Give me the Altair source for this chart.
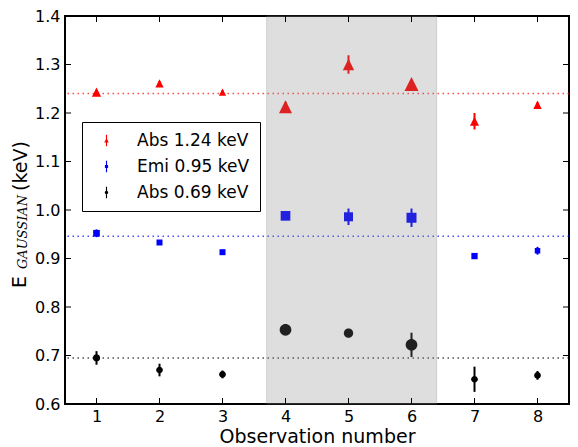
import altair as alt
import pandas as pd

# ---------------- data ----------------
obs = [1, 2, 3, 4, 5, 6, 7, 8]

series_names = ["Abs 1.24 keV", "Emi 0.95 keV", "Abs 0.69 keV"]
series_colors = ["#ff0000", "#0000ff", "#000000"]
reference_levels = [1.240, 0.946, 0.695]

abs124 = [1.243, 1.261, 1.243, 1.213, 1.300, 1.260, 1.183, 1.217]
abs124_err = [0.005, 0.005, 0.004, 0.010, 0.019, 0.008, 0.017, 0.005]

emi095 = [0.952, 0.933, 0.913, 0.988, 0.986, 0.984, 0.905, 0.916]
emi095_err = [0.008, 0.004, 0.003, 0.005, 0.017, 0.019, 0.004, 0.008]

abs069 = [0.695, 0.670, 0.661, 0.753, 0.746, 0.722, 0.651, 0.659]
abs069_err = [0.014, 0.013, 0.008, 0.004, 0.004, 0.025, 0.026, 0.009]

# marker diameters in px (style)
abs124_px = [9.3, 8.3, 7.3, 13, 11.3, 14, 9, 8.3]
emi095_px = [6.7, 6, 6, 9.7, 9, 10, 6.3, 5.5]
abs069_px = [7.3, 6.7, 6.7, 11.7, 9.3, 11.7, 6.7, 6.7]

shade_start, shade_end = 3.7, 6.4
x_ticks = [1, 2, 3, 4, 5, 6, 7, 8]
y_ticks = [0.6, 0.7, 0.8, 0.9, 1.0, 1.1, 1.2, 1.3, 1.4]

# ---------------- build tables ----------------
rows = []
for name, col, vals, errs, px in zip(
    series_names, series_colors,
    [abs124, emi095, abs069], [abs124_err, emi095_err, abs069_err],
    [abs124_px, emi095_px, abs069_px]):
    for o, v, e, d in zip(obs, vals, errs, px):
        rows.append({"obs": o, "val": v, "lo": v - e, "hi": v + e,
                     "series": name, "col": col, "sz": d * d})
df = pd.DataFrame(rows)
ref_df = pd.DataFrame({"level": reference_levels, "col": series_colors})
legend_df = pd.DataFrame({"series": series_names})

W, H = 504, 388
xscale = alt.Scale(domain=[0.5, 8.5], nice=False, zero=False)
yscale = alt.Scale(domain=[0.6, 1.4], nice=False, zero=False)

xaxis = alt.Axis(values=x_ticks, format="d", tickSize=0, labelPadding=4, labelFontSize=16,
                 title="Observation number", titleFontSize=19,
                 titleFontWeight="normal", titlePadding=3, domain=False,
                 grid=False, labelFont="DejaVu Sans", titleFont="DejaVu Sans",
                 labelColor="black", titleColor="black")
yaxis = alt.Axis(values=y_ticks, format=".1f", tickSize=0, labelPadding=5,
                 labelFontSize=16, title=None, domain=False, grid=False,
                 labelFont="DejaVu Sans", labelColor="black")

tri = "M0,-1L1,1L-1,1Z"
sq = "M-1,-1L1,-1L1,1L-1,1Z"
circ = "M1,0A1,1 0 1,1 -1,0A1,1 0 1,1 1,0Z"

leg_tri = "M-0.1,-1L0.1,-1L0.1,1L-0.1,1Z M0,-0.45L0.4,0.35L-0.4,0.35Z"
leg_sq = "M-0.1,-1L0.1,-1L0.1,1L-0.1,1Z M-0.28,-0.28L0.28,-0.28L0.28,0.28L-0.28,0.28Z"
leg_circ = "M-0.1,-1L0.1,-1L0.1,1L-0.1,1Z M0.3,0A0.3,0.3 0 1,1 -0.3,0A0.3,0.3 0 1,1 0.3,0Z"

base = alt.Chart(df)

ref_lines = alt.Chart(ref_df).mark_rule(
    strokeDash=[1.5, 3.5], strokeWidth=1.5, opacity=0.7
).encode(
    y=alt.Y("level:Q", scale=yscale, axis=yaxis),
    color=alt.Color("col:N", scale=None),
)

errbars = base.mark_rule(strokeWidth=2).encode(
    x=alt.X("obs:Q", scale=xscale, axis=xaxis),
    y=alt.Y("lo:Q", scale=yscale),
    y2="hi:Q",
    color=alt.Color("col:N", scale=None),
)

points = base.mark_point(filled=True, opacity=1).encode(
    x=alt.X("obs:Q", scale=xscale),
    y=alt.Y("val:Q", scale=yscale),
    shape=alt.Shape("series:N", scale=alt.Scale(domain=series_names, range=[tri, sq, circ]), legend=None),
    color=alt.Color("series:N", scale=alt.Scale(domain=series_names, range=series_colors), legend=None),
    size=alt.Size("sz:Q", scale=None),
)

legend_layer = alt.Chart(legend_df).mark_point(filled=True, opacity=1).encode(
    x=alt.value(-500), y=alt.value(-500),
    shape=alt.Shape("series:N", scale=alt.Scale(domain=series_names, range=[leg_tri, leg_sq, leg_circ]),
                    legend=alt.Legend(title=None, orient="none", legendX=17, legendY=106,
                                      fillColor="white", strokeColor="black",
                                      padding=10, labelFontSize=17, labelFont="DejaVu Sans",
                                      labelColor="black", symbolSize=130, rowPadding=8,
                                      symbolOffset=6, labelOffset=22, symbolStrokeWidth=0)),
    color=alt.Color("series:N", scale=alt.Scale(domain=series_names, range=series_colors)),
)

shade = alt.Chart(pd.DataFrame({"a": [shade_start], "b": [shade_end]})).mark_rect(
    fill="#808080", fillOpacity=0.26, stroke="#808080", strokeOpacity=0.26, strokeWidth=1
).encode(
    x=alt.X("a:Q", scale=xscale), x2="b:Q",
    y=alt.value(0), y2=alt.value(H),
)

ytick_df = pd.DataFrame({"v": y_ticks})
xtick_df = pd.DataFrame({"v": x_ticks})
tk = dict(color="black", strokeWidth=1)
ticks_left = alt.Chart(ytick_df).mark_rule(**tk).encode(
    y=alt.Y("v:Q", scale=yscale), x=alt.value(0), x2=alt.value(6))
ticks_right = alt.Chart(ytick_df).mark_rule(**tk).encode(
    y=alt.Y("v:Q", scale=yscale), x=alt.value(W - 6), x2=alt.value(W))
ticks_bottom = alt.Chart(xtick_df).mark_rule(**tk).encode(
    x=alt.X("v:Q", scale=xscale), y=alt.value(H - 6), y2=alt.value(H))
ticks_top = alt.Chart(xtick_df).mark_rule(**tk).encode(
    x=alt.X("v:Q", scale=xscale), y=alt.value(0), y2=alt.value(6))

t_E = alt.Chart(pd.DataFrame({"t": ["E"]})).mark_text(
    angle=270, fontSize=19, font="DejaVu Sans", align="center", baseline="middle", color="black"
).encode(text="t:N", x=alt.value(-45), y=alt.value(266))
t_sub = alt.Chart(pd.DataFrame({"t": ["GAUSSIAN"]})).mark_text(
    angle=270, fontSize=13, font="DejaVu Serif", fontStyle="italic",
    align="center", baseline="middle", color="black"
).encode(text="t:N", x=alt.value(-42), y=alt.value(216))
t_unit = alt.Chart(pd.DataFrame({"t": ["(keV)"]})).mark_text(
    angle=270, fontSize=19, font="DejaVu Sans", align="center", baseline="middle", color="black"
).encode(text="t:N", x=alt.value(-44), y=alt.value(150))

chart = alt.layer(
    ref_lines, errbars, points, legend_layer, shade,
    ticks_left, ticks_right, ticks_bottom, ticks_top,
    t_E, t_sub, t_unit
).resolve_scale(
    shape="independent", color="independent"
).properties(
    width=W, height=H,
    autosize=alt.AutoSizeParams(type="none"),
    padding={"left": 57, "top": 8, "right": 1, "bottom": 47},
    background="white",
).configure_view(
    stroke="black", strokeWidth=2
)

chart.save("out.html", embed_options={"renderer": "svg", "actions": False})
